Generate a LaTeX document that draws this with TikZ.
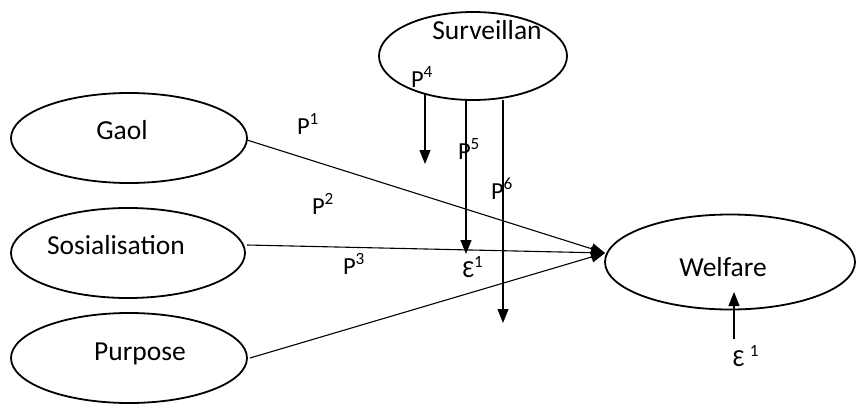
\documentclass[tikz,border=0pt]{standalone}
\usepackage{fontspec}
\setmainfont{Carlito}
\usetikzlibrary{arrows.meta,shapes.geometric}
\begin{document}
\begin{tikzpicture}[x=1pt,y=-1pt,
  construct/.style={draw,ellipse,line width=1.8pt,inner sep=0pt},
  txt/.style={inner sep=0pt,anchor=base,font=\fontsize{27.5}{31}\selectfont},
  lbl/.style={inner sep=0pt,anchor=base,font=\fontsize{24.5}{28}\selectfont},
  conn/.style={line width=1.1pt,-{Triangle[width=11pt,length=14pt]}},
]
\useasboundingbox (0,0) rectangle (856,404);
% ellipses
\node[construct,minimum width=236pt,minimum height=90pt] (gaol) at (129,138) {};
\node[construct,minimum width=234pt,minimum height=90pt] (sos) at (128,253) {};
\node[construct,minimum width=236pt,minimum height=90pt] (purp) at (129,358) {};
\node[construct,minimum width=188pt,minimum height=88pt] (surv) at (473,56) {};
\node[construct,minimum width=250pt,minimum height=95pt] (welf) at (730,262) {};
% texts
\node[txt] (tgaol) at (122,139) {Gaol};
\node[txt] (tsos) at (116,254) {Sosialisation};
\node[txt] (tpurp) at (140,360) {Purpose};
\node[txt] (tsurv) at (487,40) {Surveillan};
\node[txt] (twelf) at (723,276) {Welfare};
% convergence point
\coordinate (tip) at (605,253);
\coordinate (g1) at (247,140);
\coordinate (s1) at (247,245);
\coordinate (p1) at (250,358);
\draw[conn] (g1) -- (tip);
\draw[conn] (s1) -- (tip);
\draw[conn] (p1) -- (tip);
% vertical arrows from Surveillan
\coordinate (a4) at (425,93);
\coordinate (b4) at (425,164);
\coordinate (a5) at (466,100);
\coordinate (b5) at (466,254);
\coordinate (a6) at (503,100);
\coordinate (b6) at (503,323);
\draw[conn] (a4) -- (b4);
\draw[conn] (a5) -- (b5);
\draw[conn] (a6) -- (b6);
% error arrow
\coordinate (ea) at (734,339);
\coordinate (eb) at (734,292);
\draw[conn] (ea) -- (eb);
% path labels
\node[lbl] (lp1) at (308,134) {P\textsuperscript{1}};
\node[lbl] (lp2) at (323,214) {P\textsuperscript{2}};
\node[lbl] (lp3) at (354,274) {P\textsuperscript{3}};
\node[lbl] (lp4) at (422,87) {P\textsuperscript{4}};
\node[lbl] (lp5) at (469,159) {P\textsuperscript{5}};
\node[lbl] (lp6) at (502,199) {P\textsuperscript{6}};
\node[lbl] (le1) at (473,277) {Ɛ\textsuperscript{1}};
\node[lbl] (le2) at (746,366) {Ɛ \textsuperscript{1}};
\end{tikzpicture}
\end{document}
